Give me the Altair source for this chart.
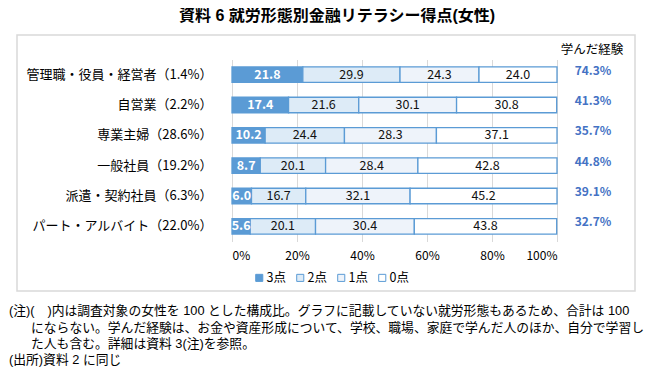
import altair as alt
import pandas as pd

categories = ["管理職・役員・経営者（1.4%）", "自営業（2.2%）", "専業主婦（28.6%）",
              "一般社員（19.2%）", "派遣・契約社員（6.3%）", "パート・アルバイト（22.0%）"]
levels = ["3点", "2点", "1点", "0点"]
score3 = [21.8, 17.4, 10.2, 8.7, 6.0, 5.6]
score2 = [29.9, 21.6, 24.4, 20.1, 16.7, 20.1]
score1 = [24.3, 30.1, 28.3, 28.4, 32.1, 30.4]
score0 = [24.0, 30.8, 37.1, 42.8, 45.2, 43.8]
learned = ["74.3%", "41.3%", "35.7%", "44.8%", "39.1%", "32.7%"]
x_ticks = [0, 20, 40, 60, 80, 100]

title_text = "資料 6  就労形態別金融リテラシー得点(女性)"
header_text = "学んだ経験"
notes = [
    "(注)(　)内は調査対象の女性を 100 とした構成比。グラフに記載していない就労形態もあるため、合計は 100",
    "にならない。学んだ経験は、お金や資産形成について、学校、職場、家庭で学んだ人のほか、自分で学習し",
    "た人も含む。詳細は資料 3(注)を参照。",
    "(出所)資料 2 に同じ",
]

FONT = "Noto Sans CJK JP"
NOTE_FONT = "Liberation Sans, Noto Sans CJK JP"
BLUE = "#5B9BD5"

rows = []
for i, c in enumerate(categories):
    for k, (lv, vals) in enumerate(zip(levels, [score3, score2, score1, score0])):
        rows.append({"cat": c, "level": lv, "rank": k, "value": vals[i],
                     "label": f"{vals[i]:.1f}"})
df = pd.DataFrame(rows)

W, H = 325, 182
PL, PT = 224, 51.5
OX, OY = 232, 59.5  # page position of plot origin

y_enc = alt.Y("cat:N", sort=categories,
              scale=alt.Scale(paddingInner=0.49, paddingOuter=0.245),
              axis=alt.Axis(title=None, domain=False, ticks=False, labelFontSize=13,
                            labelFont=FONT, labelColor="#000", labelPadding=20,
                            labelLimit=400))

base = alt.Chart(df).transform_stack(
    stack="value", groupby=["cat"], as_=["x0", "x1"],
    sort=[alt.SortField("rank", order="ascending")]
)

bars = base.mark_bar(strokeWidth=1.3, stroke=BLUE).encode(
    x=alt.X("x0:Q", scale=alt.Scale(domain=[0, 100], nice=False),
            axis=alt.Axis(title=None, values=x_ticks, labelExpr="datum.value + '%'",
                          grid=True, gridColor="#D9D9D9", gridWidth=1,
                          domain=False, ticks=False, labelFontSize=12, labelFont=FONT,
                          labelColor="#000", labelPadding=9)),
    x2="x1:Q",
    y=y_enc,
    fill=alt.Fill("level:N", sort=levels,
                  scale=alt.Scale(domain=levels, range=[BLUE, "#DDEBF7", "#EEF3FA", "#FFFFFF"]),
                  legend=alt.Legend(title=None, orient="none", direction="horizontal",
                                    legendX=21, legendY=212, symbolType="square",
                                    symbolSize=50, symbolStrokeColor=BLUE,
                                    symbolStrokeWidth=1, labelFontSize=12.5, labelFont=FONT,
                                    labelColor="#000", labelOffset=1, columnPadding=8)),
)

lab_base = base.transform_calculate(xm="(datum.x0 + datum.x1) / 2")
labels_top = lab_base.transform_filter("datum.rank == 0").mark_text(
    fontSize=12.5, font=FONT, fontWeight="bold", color="#FFFFFF"
).encode(x=alt.X("xm:Q"), y=alt.Y("cat:N", sort=categories), text="label:N")
labels_rest = lab_base.transform_filter("datum.rank > 0").mark_text(
    fontSize=12.5, font=FONT, color="#111111"
).encode(x=alt.X("xm:Q"), y=alt.Y("cat:N", sort=categories), text="label:N")

ldf = pd.DataFrame({"cat": categories, "learned": learned})
learned_txt = alt.Chart(ldf).mark_text(
    fontSize=12, font=FONT, fontWeight="bold", color="#4472C4", dy=-4
).encode(x=alt.value(361), y=alt.Y("cat:N", sort=categories), text="learned:N")


def pix_text(txt, x, y, align="left", size=12, weight="normal", font=FONT):
    return alt.Chart(pd.DataFrame({"t": [txt]})).mark_text(
        align=align, baseline="middle", fontSize=size, font=font,
        fontWeight=weight, color="#000"
    ).encode(x=alt.value(x - OX), y=alt.value(y - OY), text="t:N")


header = pix_text(header_text, 592, 50, align="center", size=12.5)
title = pix_text(title_text, 337, 16, align="center", size=16, weight="bold", font=NOTE_FONT)

NS = 12.8
note_layers = [
    pix_text(notes[0], 9, 311, size=NS, font=NOTE_FONT),
    pix_text(notes[1], 31, 327.5, size=NS, font=NOTE_FONT),
    pix_text(notes[2], 31, 344, size=NS, font=NOTE_FONT),
    pix_text(notes[3], 9, 360, size=NS, font=NOTE_FONT),
]

frame = alt.Chart(pd.DataFrame({"a": [1]})).mark_rect(
    fill=None, stroke="#D9D9D9", strokeWidth=1.5
).encode(x=alt.value(17 - OX), x2=alt.value(635 - OX),
         y=alt.value(35 - OY), y2=alt.value(291 - OY))

chart = alt.layer(frame, bars, labels_top, labels_rest, learned_txt, header, title,
                  *note_layers).properties(
    width=W, height=H,
    autosize=alt.AutoSizeParams(type="none"),
    padding={"left": PL, "top": PT, "right": 657 - 16 - PL - W, "bottom": 375 - 16 - PT - H},
).configure_view(stroke=None)

chart.save("out.html", embed_options={"renderer": "svg", "actions": False})
